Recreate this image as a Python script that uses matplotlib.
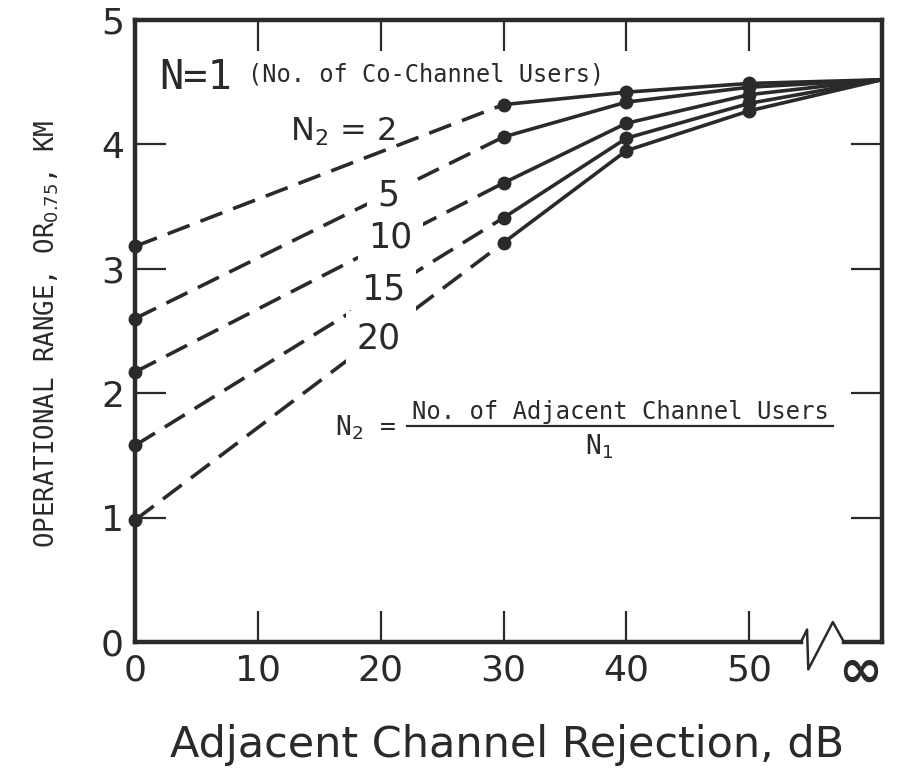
import matplotlib
matplotlib.use("Agg")
import matplotlib.pyplot as plt
from matplotlib.lines import Line2D

# ---- data ----
x_inf = 60.8                      # position used for "infinity" on the axis
x_points = [0, 30, 40, 50, x_inf]
n2_labels = ["2", "5", "10", "15", "20"]
range_n2_2 = [3.18, 4.32, 4.42, 4.49, 4.52]
range_n2_5 = [2.60, 4.06, 4.34, 4.46, 4.52]
range_n2_10 = [2.17, 3.69, 4.17, 4.40, 4.52]
range_n2_15 = [1.58, 3.41, 4.05, 4.33, 4.52]
range_n2_20 = [0.98, 3.21, 3.95, 4.27, 4.52]
series = [range_n2_2, range_n2_5, range_n2_10, range_n2_15, range_n2_20]
x_ticks = [0, 10, 20, 30, 40, 50]
x_ticklabels = ["0", "10", "20", "30", "40", "50"]
y_ticks = [0, 1, 2, 3, 4, 5]
y_ticklabels = ["0", "1", "2", "3", "4", "5"]

INK = "#2a2a2a"
MONO = ["DejaVu Sans Mono", "DejaVu Sans"]

fig = plt.figure(figsize=(9.09, 7.73), dpi=100)
ax = fig.add_axes([135/909, 1-642/773, 747/909, 622/773])
ax.set_xlim(0, x_inf)
ax.set_ylim(0, 5)

for ys in series:
    # dashed part 0 -> 30
    ax.plot(x_points[:2], ys[:2], color=INK, lw=2.6, dashes=(6.5, 3.2),
            solid_capstyle="butt", zorder=3)
    # solid part 30 -> inf
    ax.plot(x_points[1:], ys[1:], color=INK, lw=2.6, zorder=3,
            solid_joinstyle="round")
    # markers
    ax.plot(x_points[:4], ys[:4], ls="none", marker="o", ms=9,
            color=INK, zorder=5, clip_on=False)

# spines
for s in ["left", "top", "right"]:
    ax.spines[s].set_linewidth(3.2)
    ax.spines[s].set_color(INK)
ax.spines["bottom"].set_visible(False)
# bottom axis with break symbol
bx1 = [0, 54.2]
by1 = [0, 0]
zig_x = [54.2, 54.7, 54.8, 56.8, 57.7]
zig_y = [0, 0.10, -0.22, 0.16, 0]
bx2 = [57.7, x_inf]
ax.add_line(Line2D(bx1, by1, color=INK, lw=3.2, clip_on=False, solid_capstyle="projecting"))
ax.add_line(Line2D(zig_x, zig_y, color=INK, lw=1.8, clip_on=False))
ax.add_line(Line2D(bx2, by1, color=INK, lw=3.2, clip_on=False, solid_capstyle="projecting"))

ax.set_xticks(x_ticks)
ax.set_xticklabels(x_ticklabels)
ax.set_yticks(y_ticks)
ax.set_yticklabels(y_ticklabels)
ax.tick_params(axis="both", direction="in", length=22, width=1.6, color=INK,
               labelsize=26, labelcolor=INK, pad=8,
               top=True, right=True)
# hide tick marks at corners
for t in ax.xaxis.get_major_ticks()[:1]:
    t.tick1line.set_visible(False); t.tick2line.set_visible(False)
for i in (0, 5):
    t = ax.yaxis.get_major_ticks()[i]
    t.tick1line.set_visible(False); t.tick2line.set_visible(False)

ax.text(x_inf - 1.8, -0.03, "\u221e", ha="center", va="top", fontsize=38,
        fontweight="bold", color=INK)

ax.set_xlabel("Adjacent Channel Rejection, dB", fontsize=31, color=INK, va="center")
ax.xaxis.set_label_coords(0.498, -0.166)
ax.set_ylabel("OPERATIONAL RANGE, OR$_{0.75}$, KM", fontsize=18.5, color=INK,
              family=MONO, va="center")
ax.yaxis.set_label_coords(-0.118, 0.495)

# annotations
ax.text(2.0, 4.53, "N=1", fontsize=29, family=MONO, color=INK, va="center")
ax.text(9.2, 4.56, "(No. of Co-Channel Users)", fontsize=17, family=MONO,
        color=INK, va="center")
ax.text(12.6, 4.03, "N$_2$ = 2", fontsize=23, color=INK, va="baseline")
lab_pos = [(20.6, 3.59), (20.8, 3.25), (20.2, 2.83), (19.8, 2.44)]
for lab, (lx, ly) in zip(n2_labels[1:], lab_pos):
    ax.text(lx, ly, lab, fontsize=25, color=INK, ha="center", va="center",
            zorder=4, bbox=dict(boxstyle="square,pad=0.3", fc="white", ec="none"))

ax.text(16.3, 1.72, "N$_2$ =", fontsize=19, family=MONO, color=INK,
        ha="left", va="center")
ax.text(39.5, 1.85, "No. of Adjacent Channel Users", fontsize=17.2, family=MONO,
        color=INK, ha="center", va="center")
ax.add_line(Line2D([22.1, 56.8], [1.74, 1.74], color=INK, lw=1.6))
ax.text(37.8, 1.57, "N$_1$", fontsize=19, family=MONO, color=INK,
        ha="center", va="center")

fig.savefig("out.png", dpi=100)
